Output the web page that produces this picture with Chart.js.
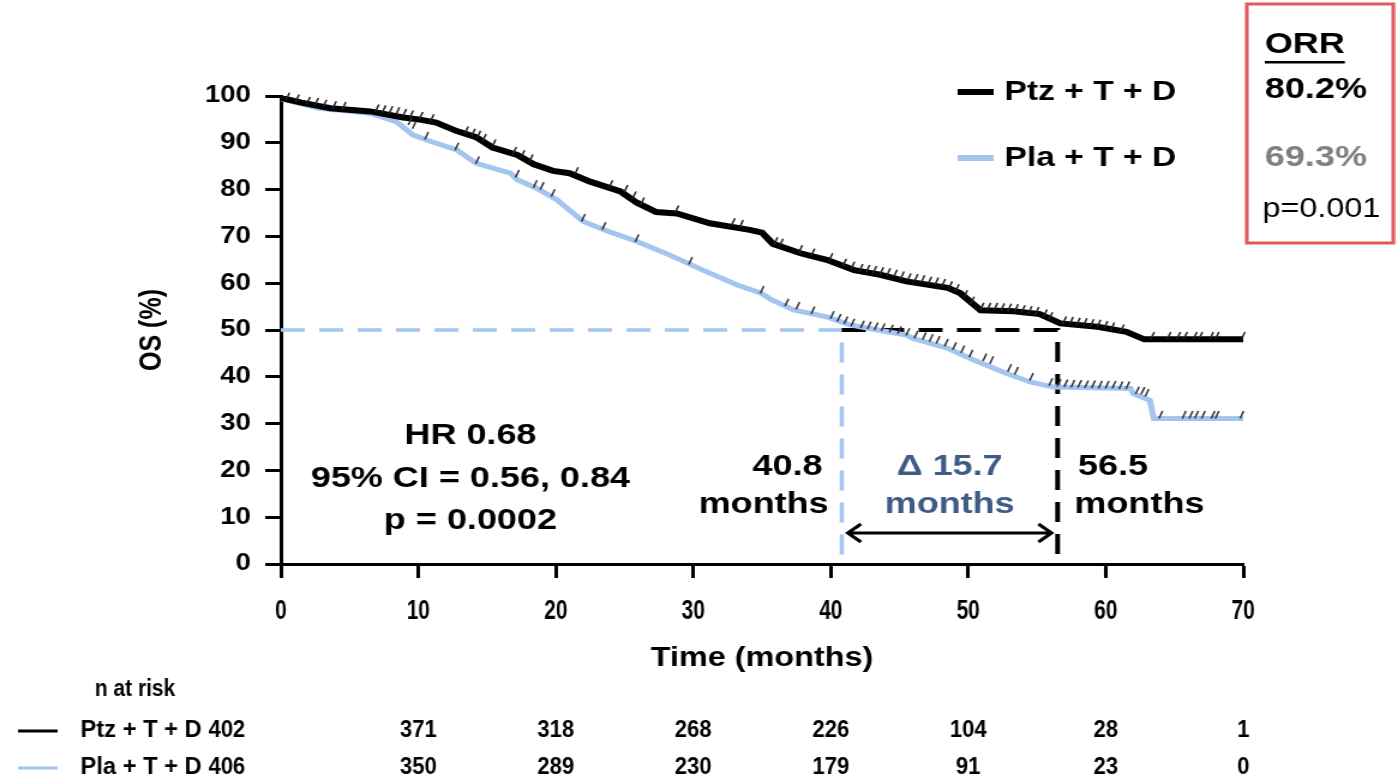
<!DOCTYPE html>
<html>
<head>
<meta charset="utf-8">
<script src="https://cdn.jsdelivr.net/npm/chart.js@4.4.0/dist/chart.umd.min.js"></script>
<style>
  html, body { margin: 0; padding: 0; background: #fff; overflow: hidden; }
  #wrap { width: 1396px; height: 779px; overflow: hidden; }
  /* the source figure is stretched sideways, so draw narrow and widen */
  #os { transform: scaleX(1.2); transform-origin: 0 0; }
</style>
</head>
<body>
<div id="wrap"><canvas id="os" width="1163" height="779"></canvas></div>
<script>
// ---- data ----
const timeTicks = [0, 10, 20, 30, 40, 50, 60, 70];
const groups = ['Ptz + T + D', 'Pla + T + D'];

const ptzTime = [0, 1.5, 3.6, 6.5, 8.9, 10.0, 11.3, 12.8, 14.2, 15.4, 17.2, 18.4, 19.8, 21.0, 22.5, 24.7, 25.9, 27.3, 28.8, 31.2,
  34.1, 35.0, 35.8, 37.8, 39.7, 41.7, 43.6, 45.5, 48.5, 49.4, 50.9, 53.3, 55.2, 56.7, 59.4, 61.5, 62.8, 70];
const ptzOS = [99.6, 98.6, 97.4, 96.7, 95.4, 95.0, 94.3, 92.5, 91.2, 89.0, 87.4, 85.4, 84.0, 83.5, 81.7, 79.6, 77.2, 75.2, 74.9, 72.8,
  71.4, 70.8, 68.4, 66.4, 65.0, 62.8, 61.8, 60.4, 59.0, 57.9, 54.2, 54.0, 53.4, 51.4, 50.7, 49.6, 48.0, 48.0];

const plaTime = [0, 2.8, 6.5, 8.4, 9.6, 10.6, 12.8, 14.2, 16.7, 17.2, 18.6, 20.1, 22.0, 23.5, 25.9, 28.3, 30.7, 33.2, 34.9, 35.6,
  37.3, 39.7, 41.4, 43.4, 45.5, 46.0, 48.5, 50.4, 52.8, 54.5, 56.2, 61.8, 62.0, 63.2, 63.5, 70];
const plaOS = [99.4, 97.4, 96.3, 94.5, 91.7, 90.6, 88.5, 85.6, 83.5, 82.1, 80.3, 77.8, 73.2, 71.4, 68.9, 66.0, 62.8, 59.6, 57.9, 56.6,
  54.3, 52.8, 51.1, 50.0, 48.9, 48.2, 46.1, 43.6, 40.7, 38.9, 37.8, 37.5, 36.4, 35.0, 31.1, 31.1];

// censor marks [time, OS]
const ptzCensored = [[0.5,99.9],[1.2,99.5],[2.0,99.0],[2.6,98.8],[3.2,98.4],[3.9,98.1],[4.6,97.9],[7.0,97.4],[7.5,97.2],[8.0,97.0],
  [8.5,96.8],[9.0,96.4],[9.5,96.1],[10.2,95.8],[11.0,95.3],[13.5,92.7],[14.0,92.2],[14.4,91.8],[14.8,91.1],[15.5,89.9],
  [17.0,88.3],[17.6,87.6],[18.2,86.7],[21.5,84.0],[24.0,81.2],[25.1,80.2],[25.7,78.8],[26.3,77.5],[28.8,75.8],[32.9,73.1],
  [33.5,72.7],[36.0,69.0],[36.4,68.7],[37.8,67.3],[38.7,66.6],[40.0,65.6],[41.0,64.4],[41.6,63.8],[42.2,63.3],[42.7,63.1],
  [43.2,62.9],[43.7,62.6],[44.2,62.4],[44.7,62.1],[45.2,61.7],[45.7,61.3],[46.2,61.1],[46.7,60.9],[47.2,60.6],[47.7,60.4],
  [48.2,60.1],[48.7,59.6],[49.2,59.0],[49.8,57.7],[50.3,56.3],[51.0,55.0],[51.5,55.0],[52.0,55.0],[52.5,54.9],[53.0,54.8],
  [53.5,54.7],[54.0,54.5],[54.5,54.3],[55.0,54.1],[55.6,53.6],[56.0,53.0],[57.0,52.1],[57.5,52.0],[58.0,51.8],[58.5,51.7],
  [59.0,51.5],[59.5,51.4],[60.0,51.1],[60.5,50.8],[61.2,50.4],[63.4,48.8],[64.6,48.8],[65.3,48.8],[65.8,48.8],[66.5,48.8],
  [66.9,48.8],[67.7,48.8],[68.1,48.8],[70.0,48.8]];
const plaCensored = [[9.4,94.6],[9.7,93.8],[10.6,91.5],[12.8,89.2],[14.3,86.3],[17.2,83.4],[18.5,81.2],[19.0,80.8],[19.8,79.3],
  [22.0,74.0],[23.5,72.2],[25.9,69.6],[29.8,64.8],[35.0,58.6],[36.8,55.9],[37.6,55.2],[38.7,54.2],[40.1,53.2],[40.6,52.6],
  [41.1,52.1],[41.6,51.6],[42.3,51.2],[42.8,51.0],[43.3,50.8],[43.8,50.6],[44.4,50.3],[45.0,50.0],[45.6,49.6],[46.2,49.0],
  [46.8,48.7],[47.3,48.3],[47.8,47.9],[48.4,47.3],[49.0,46.6],[49.6,45.9],[50.2,45.0],[51.2,44.2],[51.7,43.6],[53.0,41.9],
  [53.5,41.3],[54.6,40.0],[56.0,38.9],[56.6,38.7],[57.1,38.6],[57.6,38.5],[58.1,38.5],[58.6,38.4],[59.1,38.4],[59.6,38.3],
  [60.1,38.3],[60.6,38.3],[61.1,38.2],[61.6,38.2],[62.3,37.1],[62.7,37.0],[63.0,36.6],[64.0,31.9],[65.7,31.9],[66.2,31.9],
  [66.6,31.9],[67.1,31.9],[67.8,31.9],[68.1,31.9],[69.9,31.9]];

const medianMonths = [56.5, 40.8];   // Ptz, Pla
const medianLevel = 50;
const nRiskPtz = [402, 371, 318, 268, 226, 104, 28, 1];
const nRiskPla = [406, 350, 289, 230, 179, 91, 23, 0];
const hrText = ['HR 0.68', '95% CI = 0.56, 0.84', 'p = 0.0002'];
const orrValues = ['80.2%', '69.3%'];
const orrP = 'p=0.001';

// ---- styling ----
const SANS = '"Liberation Sans", Arial, Helvetica, sans-serif';
const PTZ_COLOR = '#000000';
const PLA_COLOR = '#a3c5ef';
const DELTA_COLOR = '#3f5b85';

const toXY = (xs, ys) => xs.map((x, i) => ({ x: x, y: ys[i] }));
const pairs = arr => arr.map(p => ({ x: p[0], y: p[1] }));

// text squeezed sideways (the figure uses a condensed face)
function narrowText(ctx, text, x, y, sx) {
  ctx.save();
  ctx.translate(x, y);
  ctx.scale(sx, 1);
  ctx.fillText(text, 0, 0);
  ctx.restore();
}

const extras = {
  id: 'extras',
  afterDraw(chart) {
    const ctx = chart.ctx;
    const xs = chart.scales.x;
    const xB = xs.getPixelForValue(medianMonths[1]);
    const xK = xs.getPixelForValue(medianMonths[0]);
    ctx.save();
    ctx.textBaseline = 'middle';

    // x tick labels, condensed
    ctx.fillStyle = '#000';
    ctx.textAlign = 'center';
    ctx.font = 'bold 28px ' + SANS;
    xs.ticks.forEach(t => narrowText(ctx, String(t.value), xs.getPixelForValue(t.value), 611, 0.62));

    // HR block
    ctx.font = 'bold 30px ' + SANS;
    hrText.forEach((t, i) => ctx.fillText(t, 392, 436 + i * 42.5));

    // medians
    ctx.textAlign = 'right';
    ctx.fillText(medianMonths[1].toFixed(1), xB - 16, 467);
    ctx.fillText('months', xB - 11, 505);
    ctx.textAlign = 'left';
    ctx.fillText(medianMonths[0].toFixed(1), xK + 17, 467);
    ctx.fillText('months', xK + 14, 505);
    ctx.textAlign = 'center';
    ctx.fillStyle = DELTA_COLOR;
    const mid = (xB + xK) / 2;
    ctx.fillText('\u0394 ' + (medianMonths[0] - medianMonths[1]).toFixed(1), mid, 467);
    ctx.fillText('months', mid, 505);

    // double arrow
    const ay = 533;
    const a0 = xB + 5, a1 = xK - 5;
    ctx.strokeStyle = '#000';
    ctx.lineWidth = 3;
    ctx.beginPath();
    ctx.moveTo(a0, ay); ctx.lineTo(a1, ay);
    ctx.moveTo(a0 + 11, ay - 9); ctx.lineTo(a0, ay); ctx.lineTo(a0 + 11, ay + 9);
    ctx.moveTo(a1 - 11, ay - 9); ctx.lineTo(a1, ay); ctx.lineTo(a1 - 11, ay + 9);
    ctx.stroke();

    // legend
    const legY = [92, 158];
    [PTZ_COLOR, PLA_COLOR].forEach((c, i) => {
      ctx.strokeStyle = c;
      ctx.lineWidth = 6;
      ctx.beginPath();
      ctx.moveTo(798, legY[i]); ctx.lineTo(828, legY[i]);
      ctx.stroke();
      ctx.fillStyle = '#000';
      ctx.textAlign = 'left';
      ctx.font = 'bold 28px ' + SANS;
      ctx.fillText(groups[i], 837, legY[i]);
    });

    // ORR box
    ctx.strokeStyle = '#e05a5c';
    ctx.lineWidth = 3;
    ctx.strokeRect(1039, 4, 122, 239);
    ctx.textAlign = 'left';
    ctx.fillStyle = '#000';
    ctx.font = 'bold 30px ' + SANS;
    ctx.fillText('ORR', 1054, 45);
    const wOrr = ctx.measureText('ORR').width;
    ctx.fillRect(1054, 61, wOrr, 2.5);
    ctx.fillText(orrValues[0], 1054, 90);
    ctx.fillStyle = '#808080';
    ctx.fillText(orrValues[1], 1054, 158);
    ctx.fillStyle = '#000';
    ctx.font = '27px ' + SANS;
    ctx.fillText(orrP, 1052, 210);

    // n at risk table
    ctx.font = 'bold 23px ' + SANS;
    ctx.textAlign = 'right';
    narrowText(ctx, 'n at risk', 146, 690, 0.76);
    const rowY = [731, 768];
    [PTZ_COLOR, PLA_COLOR].forEach((c, i) => {
      ctx.strokeStyle = c;
      ctx.lineWidth = 3;
      ctx.beginPath();
      ctx.moveTo(15, rowY[i]); ctx.lineTo(48, rowY[i]);
      ctx.stroke();
      ctx.textAlign = 'left';
      narrowText(ctx, groups[i], 67, rowY[i], 0.86);
    });
    ctx.textAlign = 'center';
    [nRiskPtz, nRiskPla].forEach((row, r) => {
      row.forEach((n, i) => {
        let x = xs.getPixelForValue(timeTicks[i]);
        if (i === 0) x -= 45;
        narrowText(ctx, String(n), x, rowY[r], 0.8);
      });
    });
    ctx.restore();
  }
};

new Chart(document.getElementById('os'), {
  type: 'line',
  data: {
    datasets: [
      { label: 'ptz censored', data: pairs(ptzCensored), showLine: false, pointStyle: 'line', pointRadius: 4,
        pointRotation: -68, pointBorderColor: '#222', pointBorderWidth: 1.5, clip: false },
      { label: 'pla censored', data: pairs(plaCensored), showLine: false, pointStyle: 'line', pointRadius: 4,
        pointRotation: -68, pointBorderColor: '#333', pointBorderWidth: 1.5, clip: false },
      { label: groups[0], data: toXY(ptzTime, ptzOS), borderColor: PTZ_COLOR, borderWidth: 6, pointRadius: 0, tension: 0 },
      { label: groups[1], data: toXY(plaTime, plaOS), borderColor: PLA_COLOR, borderWidth: 5, pointRadius: 0, tension: 0 },
      { label: 'median ptz', data: [{ x: medianMonths[1], y: medianLevel }, { x: medianMonths[0], y: medianLevel }, { x: medianMonths[0], y: 0 }],
        borderColor: '#000', borderWidth: 4, borderDash: [20, 12], pointRadius: 0, tension: 0 },
      { label: 'median pla', data: [{ x: 0, y: medianLevel }, { x: medianMonths[1], y: medianLevel }, { x: medianMonths[1], y: 0 }],
        borderColor: PLA_COLOR, borderWidth: 3.5, borderDash: [20, 12], pointRadius: 0, tension: 0 }
    ]
  },
  options: {
    responsive: false,
    animation: false,
    devicePixelRatio: 1,
    layout: { padding: { top: 96, right: 127, left: 0, bottom: 0 } },
    plugins: { legend: { display: false }, tooltip: { enabled: false } },
    scales: {
      x: {
        type: 'linear', min: 0, max: 70,
        afterBuildTicks: s => { s.ticks = timeTicks.map(v => ({ value: v })); },
        afterFit: s => { s.height = 215; },
        ticks: { display: false },
        grid: { drawOnChartArea: false, drawTicks: true, tickLength: 14, tickWidth: 3, tickColor: '#000' },
        border: { color: '#000', width: 3 },
        title: { display: true, text: 'Time (months)', color: '#000', font: { family: SANS, size: 27, weight: 'bold' },
          padding: { top: 0, bottom: 104 } }
      },
      y: {
        min: 0, max: 100,
        afterFit: s => { s.width = 234; },
        ticks: { stepSize: 10, color: '#000', padding: 12, font: { family: SANS, size: 23, weight: 'bold' } },
        grid: { drawOnChartArea: false, drawTicks: true, tickLength: 13, tickWidth: 3, tickColor: '#000' },
        border: { color: '#000', width: 3 },
        title: { display: true, text: 'OS (%)', color: '#000', font: { family: SANS, size: 25, weight: 'bold' },
          padding: { top: 112, bottom: 0 } }
      }
    }
  },
  plugins: [extras]
});
</script>
</body>
</html>
